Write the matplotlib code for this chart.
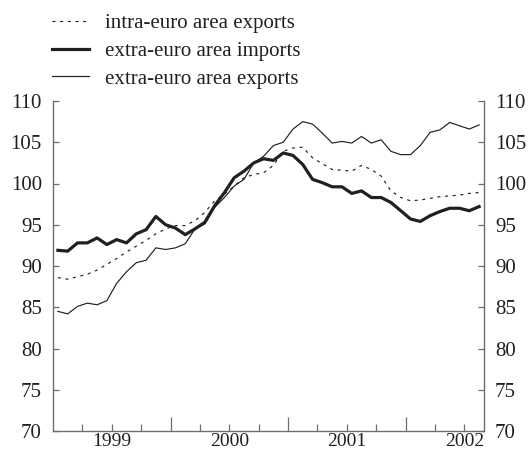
import numpy as np
import matplotlib.pyplot as plt
from matplotlib.ticker import FixedLocator, FixedFormatter, NullFormatter

# monthly index values, Jan 1999 - Aug 2002
intra_exports = [88.6, 88.4, 88.7, 89.0, 89.5, 90.2, 90.9, 91.7, 92.4, 93.1,
                 93.9, 94.5, 94.9, 94.9, 95.5, 96.5, 97.9, 98.7, 99.7, 100.7,
                 101.1, 101.3, 102.2, 103.9, 104.3, 104.4, 103.1, 102.4, 101.7, 101.6,
                 101.5, 102.2, 101.7, 100.9, 99.1, 98.3, 97.9, 98.0, 98.2, 98.4,
                 98.5, 98.6, 98.8, 98.9]
extra_imports = [91.9, 91.8, 92.8, 92.8, 93.4, 92.6, 93.2, 92.8, 93.9, 94.4,
                 96.0, 95.0, 94.6, 93.8, 94.5, 95.3, 97.3, 98.9, 100.7, 101.5,
                 102.5, 103.0, 102.8, 103.7, 103.4, 102.3, 100.5, 100.1, 99.6, 99.6,
                 98.8, 99.1, 98.3, 98.3, 97.7, 96.7, 95.7, 95.4, 96.1, 96.6,
                 97.0, 97.0, 96.7, 97.2]
extra_exports = [84.5, 84.2, 85.1, 85.5, 85.3, 85.8, 87.9, 89.3, 90.4, 90.7,
                 92.2, 92.0, 92.2, 92.7, 94.5, 95.1, 97.1, 98.3, 99.7, 100.5,
                 102.5, 103.3, 104.6, 105.0, 106.6, 107.5, 107.2, 106.1, 104.9, 105.1,
                 104.9, 105.7, 104.9, 105.3, 103.9, 103.5, 103.5, 104.6, 106.2, 106.5,
                 107.4, 107.0, 106.6, 107.1]
years = ['1999', '2000', '2001', '2002']
labels = ['intra-euro area exports', 'extra-euro area imports', 'extra-euro area exports']

plt.rcParams['font.family'] = 'Liberation Serif'
ink = '#231f20'
spine = '#6d6e70'
fs = 15

months = np.arange(len(intra_exports))

fig = plt.figure(figsize=(5.28, 4.55), dpi=100)
ax = fig.add_axes([53 / 528, 1 - 431 / 455, 431 / 528, 330 / 455])

l1, = ax.plot(months, intra_exports, color=ink, lw=0.85, dashes=(2.5, 4))
l2, = ax.plot(months, extra_imports, color=ink, lw=2.3)
l3, = ax.plot(months, extra_exports, color=ink, lw=0.85)

ax.set_xlim(-0.5, len(months) - 0.5)
ax.set_ylim(70, 110)
ax.set_yticks(np.arange(70, 111, 5))

# year boundaries (long ticks) and quarters (short ticks, year labels mid-year)
year_edges = [11.5, 23.5, 35.5]
quarters = [q for q in np.arange(2.5, 44, 3) if q not in year_edges]
ax.xaxis.set_major_locator(FixedLocator(year_edges))
ax.xaxis.set_major_formatter(NullFormatter())
ax.xaxis.set_minor_locator(FixedLocator(quarters))
ax.xaxis.set_minor_formatter(FixedFormatter(
    [years[int(q // 12)] if q % 12 == 5.5 else '' for q in quarters]))

ax.tick_params(axis='x', which='major', direction='in', length=10, width=0.9, color=spine)
ax.tick_params(axis='x', which='minor', direction='in', length=5, width=0.9, color=spine,
               labelsize=14, labelcolor=ink, pad=1.5)
ax.tick_params(axis='y', direction='in', length=4, width=0.9, color=spine,
               labelsize=fs, labelcolor=ink, pad=8, left=True, right=True,
               labelleft=True, labelright=True)

ax.spines['top'].set_visible(False)
for s in ['left', 'right', 'bottom']:
    ax.spines[s].set_color(spine)
    ax.spines[s].set_linewidth(1.0)

fig.legend([l1, l2, l3], labels, loc='upper left', bbox_to_anchor=(44 / 528, 1 - 5 / 455),
           frameon=False, fontsize=fs, handlelength=1.75, handletextpad=0.8,
           labelspacing=0.4, borderaxespad=0, labelcolor=ink)

fig.savefig('out.png', dpi=100)
